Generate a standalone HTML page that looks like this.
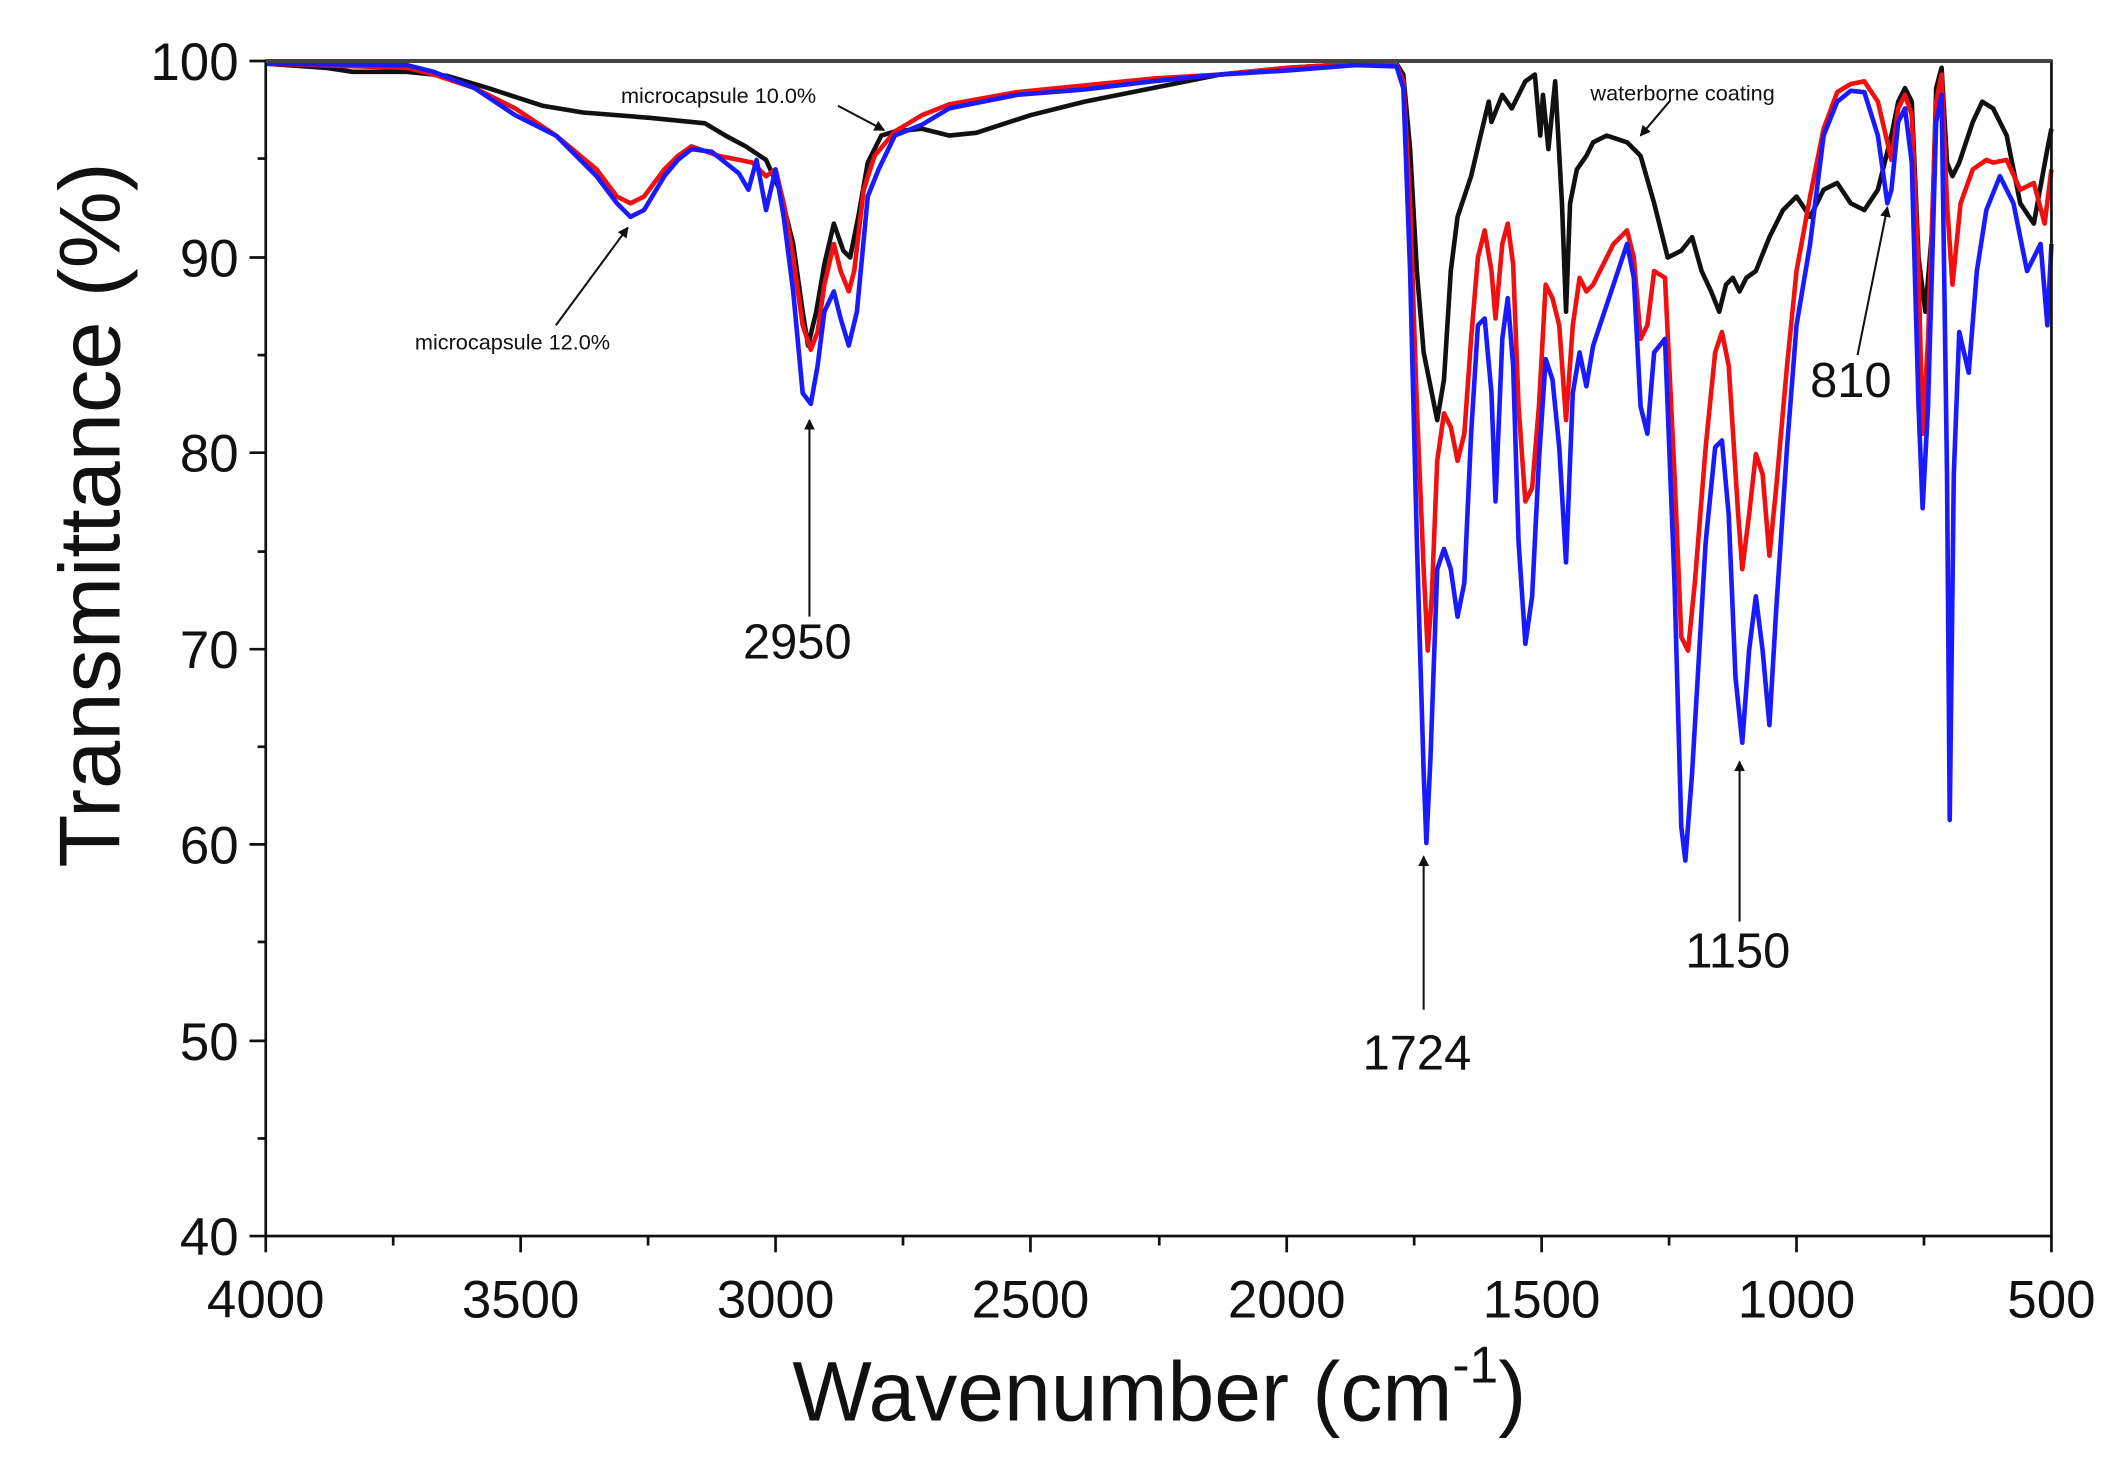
<!DOCTYPE html>
<html><head><meta charset="utf-8"><style>
html,body{margin:0;padding:0;background:#fff;}
svg{display:block;}
text{font-family:"Liberation Sans",Arial,sans-serif;fill:#111;}
</style></head><body>
<svg width="2126" height="1480" viewBox="0 0 1568 1092" preserveAspectRatio="none" xmlns="http://www.w3.org/2000/svg">
<rect x="0" y="0" width="1568" height="1092" fill="#fff"/>
<defs><marker id="ah" markerWidth="8" markerHeight="8" refX="7" refY="4" orient="auto" markerUnits="userSpaceOnUse"><path d="M0,0 L8,4 L0,8 z" fill="#111"/></marker></defs>
<g fill="none" stroke-width="3.4" stroke-linejoin="round">
<polyline stroke="#111" points="197,47 240,50 260,53 300,53 330,56 360,65 400,78 430,83 480,87 520,91 535,100 550,108 565,118 575,140 585,180 592,230 596,255 602,230 608,195 615,165 622,185 627,190 633,160 640,120 650,100 660,97 680,95 700,100 720,98 760,85 800,75 850,65 900,55 950,50 1000,47 1030,47 1035,55 1040,110 1045,200 1050,260 1055,285 1060,310 1065,280 1070,200 1075,160 1085,130 1092,100 1098,75 1100,90 1108,70 1115,80 1125,60 1132,55 1136,100 1138,70 1142,110 1147,60 1152,150 1155,230 1158,150 1163,125 1170,115 1175,105 1185,100 1200,105 1210,115 1220,150 1230,190 1240,185 1248,175 1255,200 1262,215 1268,230 1273,210 1278,205 1283,215 1288,205 1295,200 1305,175 1315,155 1325,145 1335,160 1345,140 1355,135 1365,150 1375,155 1385,140 1395,100 1400,75 1405,65 1410,75 1415,190 1420,230 1425,170 1428,65 1432,50 1436,120 1440,130 1445,120 1455,90 1462,75 1470,80 1480,100 1490,150 1500,165 1510,110 1513,95"/>
<polyline stroke="#f01010" points="197,47 300,50 320,55 350,65 380,80 410,100 440,125 455,145 465,150 475,145 490,125 500,115 510,108 530,115 545,118 555,120 565,130 572,125 578,150 585,190 592,240 598,258 603,245 608,210 615,180 620,200 626,215 630,200 637,140 645,115 660,97 680,85 700,77 750,68 800,63 850,58 900,55 950,50 1000,47 1030,48 1035,60 1040,150 1045,300 1050,420 1053,480 1056,440 1060,340 1065,305 1070,315 1075,340 1080,320 1085,250 1090,190 1095,170 1100,200 1103,235 1108,180 1112,165 1116,195 1120,300 1125,370 1130,360 1135,300 1140,210 1145,220 1150,240 1155,310 1160,240 1165,205 1170,215 1175,210 1180,200 1190,180 1200,170 1205,190 1210,250 1215,240 1220,200 1228,205 1235,350 1240,470 1245,480 1250,430 1258,330 1265,260 1270,245 1275,270 1282,380 1285,420 1290,380 1295,335 1300,350 1305,410 1310,360 1318,270 1325,200 1335,145 1345,95 1355,68 1365,62 1375,60 1385,75 1395,118 1400,80 1405,70 1410,85 1415,200 1418,320 1422,250 1428,75 1432,55 1436,150 1440,210 1446,150 1455,125 1465,118 1470,120 1480,118 1490,140 1500,135 1508,165 1513,125"/>
<polyline stroke="#1a1aff" points="197,47 300,48 320,53 350,65 380,85 410,100 440,130 455,150 465,160 475,155 490,130 500,118 510,110 525,112 535,120 545,128 552,140 558,118 565,155 572,125 578,160 585,215 592,290 598,298 603,270 608,230 615,215 620,235 626,255 632,230 640,145 648,125 660,100 680,92 700,80 750,70 800,66 850,60 900,55 950,52 1000,48 1030,49 1035,65 1040,200 1045,400 1050,570 1052,622 1055,560 1060,420 1065,405 1070,420 1075,455 1080,430 1085,320 1090,240 1095,235 1100,290 1103,370 1108,250 1112,220 1116,270 1120,400 1125,475 1130,440 1135,340 1140,265 1145,280 1150,330 1155,415 1160,290 1165,260 1170,285 1175,255 1180,240 1190,210 1200,180 1205,205 1210,300 1215,320 1220,260 1228,250 1235,430 1240,610 1243,635 1248,570 1258,400 1265,330 1270,325 1275,380 1280,500 1285,548 1290,480 1295,440 1300,480 1305,535 1310,450 1318,330 1325,240 1335,180 1345,100 1355,75 1365,67 1375,68 1385,100 1392,150 1395,140 1400,90 1405,80 1410,120 1415,300 1418,375 1422,300 1428,90 1432,70 1436,350 1438,605 1441,350 1445,245 1452,275 1458,200 1465,155 1475,130 1485,150 1495,200 1505,180 1510,240 1513,180"/>
</g>
<rect x="196" y="45" width="1317" height="867" fill="none" stroke="#111" stroke-width="2"/>
<line x1="196" y1="45" x2="1513" y2="45" stroke="#444" stroke-width="3"/>
<g stroke="#111" stroke-width="2">
<line x1="196" y1="912" x2="196" y2="924"/><line x1="384" y1="912" x2="384" y2="924"/><line x1="572" y1="912" x2="572" y2="924"/><line x1="760" y1="912" x2="760" y2="924"/><line x1="949" y1="912" x2="949" y2="924"/><line x1="1137" y1="912" x2="1137" y2="924"/><line x1="1325" y1="912" x2="1325" y2="924"/><line x1="1513" y1="912" x2="1513" y2="924"/>
<line x1="290" y1="912" x2="290" y2="919"/><line x1="478" y1="912" x2="478" y2="919"/><line x1="666" y1="912" x2="666" y2="919"/><line x1="855" y1="912" x2="855" y2="919"/><line x1="1043" y1="912" x2="1043" y2="919"/><line x1="1231" y1="912" x2="1231" y2="919"/><line x1="1419" y1="912" x2="1419" y2="919"/>
<line x1="184" y1="45" x2="196" y2="45"/><line x1="184" y1="190" x2="196" y2="190"/><line x1="184" y1="334" x2="196" y2="334"/><line x1="184" y1="479" x2="196" y2="479"/><line x1="184" y1="623" x2="196" y2="623"/><line x1="184" y1="768" x2="196" y2="768"/><line x1="184" y1="912" x2="196" y2="912"/>
<line x1="190" y1="117" x2="196" y2="117"/><line x1="190" y1="262" x2="196" y2="262"/><line x1="190" y1="407" x2="196" y2="407"/><line x1="190" y1="551" x2="196" y2="551"/><line x1="190" y1="695" x2="196" y2="695"/><line x1="190" y1="840" x2="196" y2="840"/>
</g>
<g font-size="39" text-anchor="end">
<text x="176" y="59">100</text><text x="176" y="204">90</text><text x="176" y="348">80</text><text x="176" y="493">70</text><text x="176" y="637">60</text><text x="176" y="782">50</text><text x="176" y="926">40</text>
</g>
<g font-size="39" text-anchor="middle">
<text x="196" y="972">4000</text><text x="384" y="972">3500</text><text x="572" y="972">3000</text><text x="760" y="972">2500</text><text x="949" y="972">2000</text><text x="1137" y="972">1500</text><text x="1325" y="972">1000</text><text x="1513" y="972">500</text>
</g>
<text x="855" y="1048" font-size="62" text-anchor="middle">Wavenumber (cm<tspan font-size="38" dy="-28">-1</tspan><tspan dy="28">)</tspan></text>
<text transform="translate(88,380) rotate(-90)" font-size="64" text-anchor="middle">Transmittance (%)</text>
<g stroke="#111" stroke-width="1.5" fill="none" marker-end="url(#ah)">
<line x1="410" y1="240" x2="463" y2="168"/>
<line x1="597" y1="455" x2="597" y2="310"/>
<line x1="1050" y1="745" x2="1050" y2="632"/>
<line x1="1283" y1="680" x2="1283" y2="562"/>
<line x1="1370" y1="262" x2="1392" y2="153"/>
<line x1="618" y1="78" x2="652" y2="96"/>
<line x1="1232" y1="74" x2="1210" y2="100"/>
</g>
<g font-size="16">
<text x="306" y="258">microcapsule 12.0%</text>
<text x="458" y="76">microcapsule 10.0%</text>
<text x="1173" y="74">waterborne coating</text>
</g>
<g font-size="36">
<text x="548" y="486">2950</text>
<text x="1005" y="789">1724</text>
<text x="1243" y="714">1150</text>
<text x="1335" y="293">810</text>
</g>
</svg>
</body></html>
